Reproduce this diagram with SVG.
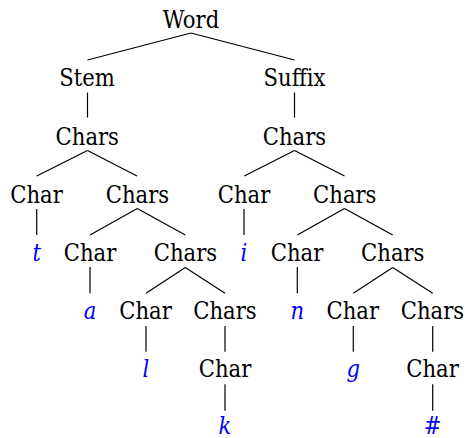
<svg xmlns="http://www.w3.org/2000/svg" width="467" height="438" viewBox="0 0 467 438">
<style>
text{font-family:"DejaVu Serif Condensed","DejaVu Serif","Liberation Serif",serif;font-stretch:condensed;font-size:23.5px;text-anchor:middle;fill:#000}
text.leaf{font-style:italic;fill:#0000ff}
#connectors line{stroke:#000;stroke-width:1.2}
</style>
<rect width="467" height="438" fill="#fff"/>
<g id="connectors">
<line x1="191" y1="33" x2="87.5" y2="60"/>
<line x1="191" y1="33" x2="294.5" y2="60"/>
<line x1="87.5" y1="92.5" x2="87.5" y2="117.5"/>
<line x1="294.5" y1="92.5" x2="294.5" y2="117.5"/>
<line x1="87.5" y1="150.5" x2="36.7" y2="176"/>
<line x1="87.5" y1="150.5" x2="137" y2="176"/>
<line x1="294.5" y1="150.5" x2="244.3" y2="176"/>
<line x1="294.5" y1="150.5" x2="344.5" y2="176"/>
<line x1="36.7" y1="209" x2="36.7" y2="235"/>
<line x1="137.3" y1="208.5" x2="90" y2="235"/>
<line x1="137.3" y1="208.5" x2="185.3" y2="235"/>
<line x1="244" y1="209" x2="244" y2="235"/>
<line x1="344.5" y1="208.5" x2="297.3" y2="235"/>
<line x1="344.5" y1="208.5" x2="392.7" y2="235"/>
<line x1="90" y1="267" x2="90" y2="293.3"/>
<line x1="185.3" y1="267.5" x2="146" y2="293.3"/>
<line x1="185.3" y1="267.5" x2="225" y2="293.3"/>
<line x1="297.3" y1="267" x2="297.3" y2="293.3"/>
<line x1="392.7" y1="267.5" x2="353.3" y2="293.3"/>
<line x1="392.7" y1="267.5" x2="432.7" y2="293.3"/>
<line x1="146" y1="326" x2="146" y2="351.7"/>
<line x1="225" y1="326" x2="225" y2="351.7"/>
<line x1="353.3" y1="326" x2="353.3" y2="351.7"/>
<line x1="432.7" y1="326" x2="432.7" y2="351.7"/>
<line x1="225" y1="384.3" x2="225" y2="410.7"/>
<line x1="432.7" y1="384.3" x2="432.7" y2="410.7"/>
</g>
<g id="n_word"><text x="191" y="28">Word</text></g>
<g id="n_stem"><text x="87" y="86">Stem</text></g>
<g id="n_suffix"><text x="294.5" y="86">Suffix</text></g>
<g id="n_chars1"><text x="87.3" y="145">Chars</text></g>
<g id="n_chars2"><text x="294.5" y="145">Chars</text></g>
<g id="n_char_t"><text x="36.5" y="203">Char</text></g>
<g id="n_chars3"><text x="137.5" y="203">Chars</text></g>
<g id="n_char_i"><text x="244" y="203">Char</text></g>
<g id="n_chars4"><text x="344.8" y="203">Chars</text></g>
<g id="n_t"><text class="leaf" x="36.7" y="261">t</text></g>
<g id="n_char_a"><text x="90" y="261">Char</text></g>
<g id="n_chars5"><text x="185.5" y="261">Chars</text></g>
<g id="n_i"><text class="leaf" x="244" y="261">i</text></g>
<g id="n_char_n"><text x="297" y="261">Char</text></g>
<g id="n_chars6"><text x="392.8" y="261">Chars</text></g>
<g id="n_a"><text class="leaf" x="90" y="319">a</text></g>
<g id="n_char_l"><text x="145.5" y="319">Char</text></g>
<g id="n_chars7"><text x="225" y="319">Chars</text></g>
<g id="n_n"><text class="leaf" x="297.3" y="319">n</text></g>
<g id="n_char_g"><text x="352.8" y="319">Char</text></g>
<g id="n_chars8"><text x="432.5" y="319">Chars</text></g>
<g id="n_l"><text class="leaf" x="146" y="377">l</text></g>
<g id="n_char_k"><text x="225" y="377">Char</text></g>
<g id="n_g"><text class="leaf" x="353.3" y="377">g</text></g>
<g id="n_char_hash"><text x="432.5" y="377">Char</text></g>
<g id="n_k"><text class="leaf" x="225" y="434">k</text></g>
<g id="n_hash"><text class="leaf" x="432.7" y="434">#</text></g>
</svg>
